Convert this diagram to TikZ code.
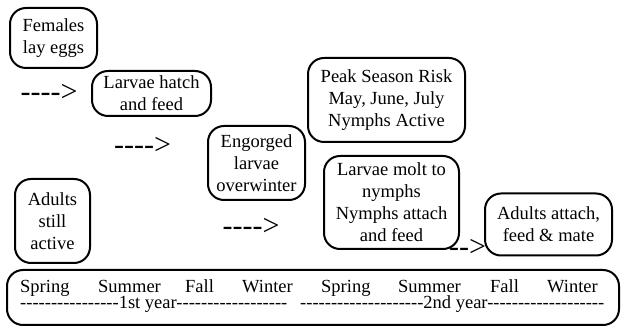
\documentclass[tikz,border=0pt]{standalone}
\usepackage{fontspec}
\setmainfont{Liberation Serif}[Ligatures=TeXOff]
\begin{document}
\begin{tikzpicture}[x=1pt,y=-1pt,
  stage/.style={draw=black, line width=2pt, rounded corners=16pt, align=center, inner sep=0pt,
    font=\fontsize{18.5}{22}\selectfont},
  arr/.style={inner sep=0pt, font=\fontsize{30}{30}\selectfont},
  season/.style={inner sep=0pt, anchor=base west, font=\fontsize{18.5}{22}\selectfont}]
\useasboundingbox (0,0) rectangle (621,328);
% stage boxes
\node[stage, minimum width=87pt, minimum height=60pt] (females) at (53.5,38) {Females\\lay eggs};
\node[stage, minimum width=119pt, minimum height=45pt] (hatch) at (151.5,93.5) {Larvae hatch\\and feed};
\node[stage, minimum width=97pt, minimum height=74pt] (engorged) at (256.5,163) {Engorged\\larvae\\overwinter};
\node[stage, minimum width=157pt, minimum height=84pt] (peak) at (386.5,100) {Peak Season Risk\\May, June, July\\Nymphs Active};
\node[stage, minimum width=135pt, minimum height=93pt] (molt) at (391.5,202.5) {Larvae molt to\\nymphs\\Nymphs attach\\and feed};
\node[stage, minimum width=127pt, minimum height=62pt] (attach) at (548.5,224.5) {Adults attach,\\feed \& mate};
\node[stage, minimum width=75pt, minimum height=84pt] (still) at (52.5,221) {Adults\\still\\active};
% text arrows
\node[arr] (a1) at (49,93) {---->};
\node[arr] (a2) at (142.5,146) {---->};
\node[arr] (a3) at (251,227) {---->};
\node[arr] (a4) at (467.5,248) {-->};
% timeline box
\draw[line width=2pt, rounded corners=16pt] (7,270) rectangle (619,325);
\node[season] (s1) at (20,293) {Spring};
\node[season] (s2) at (98,293) {Summer};
\node[season] (s3) at (185,293) {Fall};
\node[season] (s4) at (242,293) {Winter};
\node[season] (s5) at (321,293) {Spring};
\node[season] (s6) at (398,293) {Summer};
\node[season] (s7) at (490,293) {Fall};
\node[season] (s8) at (547,293) {Winter};
\node[season] (y1) at (20,309) {----------------1st year------------------};
\node[season] (y2) at (300,309) {--------------------2nd year-------------------};
\end{tikzpicture}
\end{document}
